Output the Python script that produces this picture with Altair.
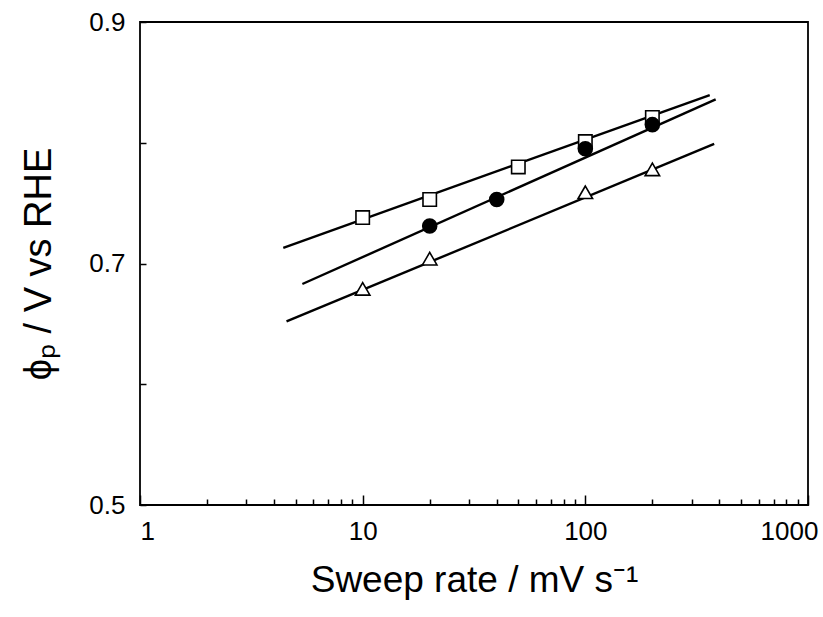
import altair as alt
import pandas as pd

# ---- data ----
series_names = ["square", "circle", "triangle"]

rates_sq = [10, 20, 50, 100, 200]
phi_sq = [0.738, 0.753, 0.780, 0.801, 0.821]

rates_ci = [20, 40, 100, 200]
phi_ci = [0.731, 0.753, 0.795, 0.815]

rates_tr = [10, 20, 100, 200]
phi_tr = [0.679, 0.704, 0.759, 0.778]

# fitted straight lines (end points)
fit_x_sq = [4.4, 362]
fit_y_sq = [0.713, 0.8395]
fit_x_ci = [5.36, 385]
fit_y_ci = [0.683, 0.836]
fit_x_tr = [4.55, 379]
fit_y_tr = [0.652, 0.799]

x_major = [1, 10, 100, 1000]
x_minor = [2, 3, 4, 5, 6, 7, 8, 9, 20, 30, 40, 50, 60, 70, 80, 90,
           200, 300, 400, 500, 600, 700, 800, 900]
y_ticks = [0.5, 0.6, 0.7, 0.8, 0.9]
y_labelled = ["0.5", "0.7", "0.9"]

# ---- tables ----
pts = pd.concat([
    pd.DataFrame({"rate": rates_sq, "phi": phi_sq, "s": "square"}),
    pd.DataFrame({"rate": rates_ci, "phi": phi_ci, "s": "circle"}),
    pd.DataFrame({"rate": rates_tr, "phi": phi_tr, "s": "triangle"}),
])
fits = pd.concat([
    pd.DataFrame({"rate": fit_x_sq, "phi": fit_y_sq, "s": "square"}),
    pd.DataFrame({"rate": fit_x_ci, "phi": fit_y_ci, "s": "circle"}),
    pd.DataFrame({"rate": fit_x_tr, "phi": fit_y_tr, "s": "triangle"}),
])

FONT = "Liberation Sans"
xscale = alt.Scale(type="log", domain=[1, 1000], nice=False)
yscale = alt.Scale(domain=[0.5, 0.9], nice=False, zero=False)

label_expr = ("indexof(" + str(y_labelled) + ", format(datum.value, '.1f')) >= 0"
              " ? format(datum.value, '.1f') : ''")

y_axis = alt.Axis(values=y_ticks, labelExpr=label_expr, tickSize=6, offset=-6,
                  domain=False, grid=False, tickColor="black", tickWidth=1.5,
                  labelPadding=15, labelFontSize=26, labelFont=FONT,
                  labelColor="black", title="ϕₚ / V vs RHE", titleFont=FONT,
                  titleFontSize=38, titleFontWeight="normal", titleColor="black",
                  titlePadding=30)

x_axis_major = alt.Axis(values=x_major, format="d", tickSize=10, offset=-10,
                        domain=False, grid=False, tickColor="black", tickWidth=1.5,
                        labelPadding=13, labelFontSize=26, labelFont=FONT,
                        labelColor="black", labelFlush=False, orient="bottom",
                        labelAlign={"condition": {"test": "datum.value == 1",
                                                  "value": "left"},
                                    "value": "center"},
                        labelOffset={"condition": {"test": "datum.value == 1000",
                                                   "value": -19},
                                     "value": 0},
                        title="Sweep rate / mV s⁻¹", titleFont=FONT,
                        titleFontSize=37, titleFontWeight="normal",
                        titleColor="black", titlePadding=18)

x_axis_minor = alt.Axis(values=x_minor, labels=False, tickSize=6, offset=-6,
                        domain=False, grid=False, tickColor="black", tickWidth=1.5,
                        orient="bottom", title=None)

lines = alt.Chart(fits).mark_line(color="black", strokeWidth=2.4).encode(
    x=alt.X("rate:Q", scale=xscale, axis=x_axis_major),
    y=alt.Y("phi:Q", scale=yscale, axis=y_axis),
    detail="s:N",
    order="rate:Q",
)

points = alt.Chart(pts).mark_point(stroke="black", strokeWidth=1.6, opacity=1,
                                   filled=False).encode(
    x=alt.X("rate:Q", scale=xscale, axis=x_axis_minor),
    y=alt.Y("phi:Q", scale=yscale),
    shape=alt.Shape("s:N", scale=alt.Scale(domain=series_names,
                    range=["square", "circle", "triangle-up"]), legend=None),
    fill=alt.Fill("s:N", scale=alt.Scale(domain=series_names,
                  range=["white", "black", "white"]), legend=None),
    size=alt.Size("s:N", scale=alt.Scale(domain=series_names,
                  range=[180, 210, 190]), legend=None),
    fillOpacity=alt.value(1),
)

chart = alt.layer(lines, points).resolve_axis(x="independent").properties(
    width=668, height=483,
    autosize=alt.AutoSizeParams(type="none"),
    padding={"left": 140, "top": 22, "right": 15, "bottom": 112},
    background="white",
).configure_view(stroke="black", strokeWidth=1.8)

chart.save("out.html", embed_options={"renderer": "svg", "actions": False})
